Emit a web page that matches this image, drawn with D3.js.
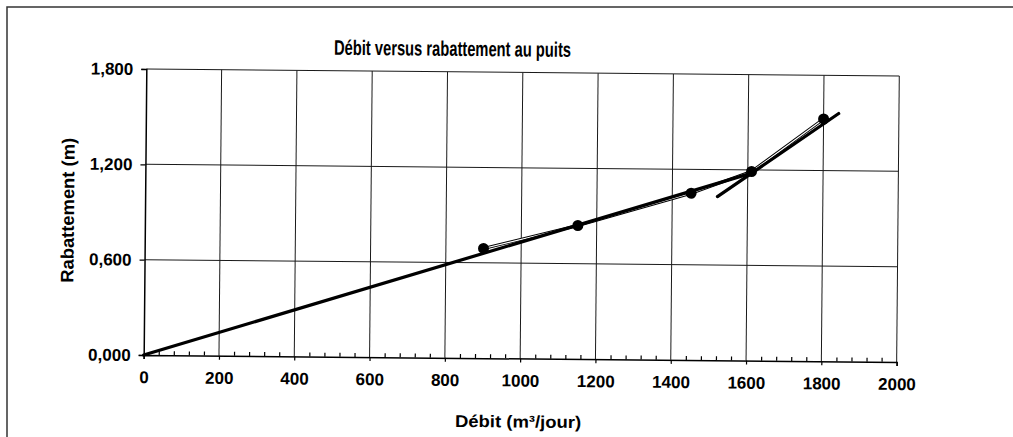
<!DOCTYPE html>
<html>
<head>
<meta charset="utf-8">
<script src="https://cdn.jsdelivr.net/npm/d3@7"></script>
<style>
  body { margin: 0; background: #fff; }
  text { font-family: "Liberation Sans", Arial, sans-serif; fill: #000; }
</style>
</head>
<body>
<div id="chart"></div>
<script>
// DATA
const debit = [900, 1150, 1450, 1610, 1800];          // m3/jour
const rabattement = [0.69, 0.84, 1.05, 1.19, 1.525];   // m
// two straight segments drawn over the measurements
const fitLowX = [0, 1610];
const fitLowY = [0, 1.18];
const fitHighX = [1520, 1840];
const fitHighY = [1.03, 1.56];
const xTickValues = [0, 200, 400, 600, 800, 1000, 1200, 1400, 1600, 1800, 2000];
const yTickValues = [0, 0.6, 1.2, 1.8];
const yTickLabels = ["0,000", "0,600", "1,200", "1,800"];

const W = 1013, H = 437;
const margin = { top: 69, right: 115, bottom: 82, left: 145 };
const width = 898 - margin.left;
const height = 355 - margin.top;

const svg = d3.select("#chart").append("svg")
    .attr("width", W)
    .attr("height", H);

// outer chart area border
svg.append("rect")
    .attr("x", 7).attr("y", 7)
    .attr("width", W + 10).attr("height", H + 10)
    .attr("fill", "none")
    .attr("stroke", "#333")
    .attr("stroke-width", 1.5);

// the scanned page is a little rotated
const root = svg.append("g")
    .attr("transform", `rotate(0.53, ${margin.left}, 212)`);

const g = root.append("g")
    .attr("transform", `translate(${margin.left},${margin.top})`);

// SCALES
const x = d3.scaleLinear().domain([0, 2000]).range([0, width]);
const y = d3.scaleLinear().domain([0, 1.8]).range([height, 0]);

// GRID
g.append("g").selectAll("line")
    .data(xTickValues.slice(1))
    .join("line")
    .attr("x1", d => x(d)).attr("x2", d => x(d))
    .attr("y1", 0).attr("y2", height)
    .attr("stroke", "#1a1a1a").attr("stroke-width", 1);

g.append("g").selectAll("line")
    .data(yTickValues.slice(1))
    .join("line")
    .attr("x1", 0).attr("x2", width)
    .attr("y1", d => y(d)).attr("y2", d => y(d))
    .attr("stroke", "#1a1a1a").attr("stroke-width", 1);

// AXES
g.append("g")
    .attr("transform", `translate(0,${height})`)
    .call(d3.axisBottom(x).tickValues(xTickValues).tickSize(4).tickPadding(12).tickFormat(d3.format("d")));

// minor ticks pointing inside
g.append("g")
    .attr("transform", `translate(0,${height})`)
    .call(d3.axisBottom(x).tickValues(d3.range(40, 2000, 40).filter(v => v % 200 !== 0)).tickSize(-4).tickFormat(""))
    .call(a => a.select(".domain").remove());

g.append("g")
    .call(d3.axisLeft(y).tickValues(yTickValues).tickSize(5).tickPadding(8)
        .tickFormat((d, i) => yTickLabels[i]));

g.selectAll(".domain").attr("stroke", "#000").attr("stroke-width", 1.5);
g.selectAll(".tick line").attr("stroke", "#000").attr("stroke-width", 1.2);
g.selectAll(".tick text")
    .attr("font-size", 17)
    .attr("font-weight", "bold")
    .attr("font-family", "'Liberation Sans', Arial, sans-serif")
    .attr("fill", "#000");

// PLOT DATA
const pts = debit.map((d, i) => ({ x: d, y: rabattement[i] }));
const line = d3.line().x(d => x(d.x)).y(d => y(d.y));

// thin measured series (scanned grey line looks hollow)
g.append("path").datum(pts)
    .attr("d", line).attr("fill", "none")
    .attr("stroke", "#000").attr("stroke-width", 3);
g.append("path").datum(pts)
    .attr("d", line).attr("fill", "none")
    .attr("stroke", "#fff").attr("stroke-width", 1.2);

const fitLow = fitLowX.map((d, i) => ({ x: d, y: fitLowY[i] }));
const fitHigh = fitHighX.map((d, i) => ({ x: d, y: fitHighY[i] }));

[fitLow, fitHigh].forEach(seg => {
    g.append("path").datum(seg)
        .attr("d", line).attr("fill", "none")
        .attr("stroke", "#000").attr("stroke-width", 3.2)
        .attr("stroke-linecap", "round");
});

g.append("g").selectAll("circle")
    .data(pts)
    .join("circle")
    .attr("cx", d => x(d.x))
    .attr("cy", d => y(d.y))
    .attr("r", 5.5)
    .attr("fill", "#000");

// LABELS
root.append("text")
    .attr("x", 451).attr("y", 53)
    .attr("text-anchor", "middle")
    .attr("font-size", 21)
    .attr("font-weight", "bold")
    .attr("textLength", 237)
    .attr("lengthAdjust", "spacingAndGlyphs")
    .text("Débit versus rabattement au puits");

root.append("text")
    .attr("x", 520).attr("y", 424)
    .attr("text-anchor", "middle")
    .attr("font-size", 17)
    .attr("font-weight", "bold")
    .attr("textLength", 126)
    .attr("lengthAdjust", "spacingAndGlyphs")
    .text("Débit (m³/jour)");

root.append("text")
    .attr("transform", "translate(74,211) rotate(-90)")
    .attr("text-anchor", "middle")
    .attr("font-size", 18)
    .attr("font-weight", "bold")
    .attr("textLength", 145)
    .attr("lengthAdjust", "spacingAndGlyphs")
    .text("Rabattement (m)");
</script>
</body>
</html>
